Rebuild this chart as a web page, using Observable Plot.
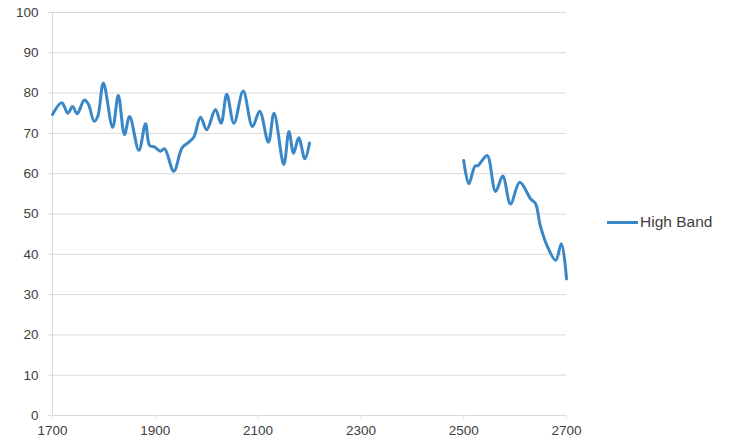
<!DOCTYPE html>
<html>
<head>
<meta charset="utf-8">
<script src="https://cdn.jsdelivr.net/npm/d3@7"></script>
<script src="https://cdn.jsdelivr.net/npm/@observablehq/plot@0.6"></script>
<style>
  body { margin: 0; background: #fff; }
  #wrap { position: relative; width: 730px; height: 444px; font-family: "Liberation Sans", Arial, sans-serif; }
  #legend { position: absolute; left: 607px; top: 213px; display: flex; align-items: center; font-size: 15.5px; color: #404040; }
  #legend .sw { width: 31px; height: 3px; background: #3a87c8; margin-right: 2px; }
</style>
</head>
<body>
<div id="wrap">
  <div id="chart"></div>
  <div id="legend"><span class="sw"></span><span>High Band</span></div>
</div>
<script>
const seriesName = "High Band";
const years = [
  1700, 1718, 1730, 1739, 1748, 1762, 1770, 1781, 1788, 1799,
  1817, 1828, 1840, 1850, 1868, 1881, 1889, 1899, 1910, 1918,
  1936, 1952, 1965, 1975, 1988, 2000, 2017, 2028, 2039, 2053,
  2071, 2089, 2103, 2120, 2131, 2150, 2160, 2169, 2179, 2191, 2200,
  2350,
  2500, 2510, 2522, 2528, 2536, 2546, 2562, 2576, 2591, 2609,
  2630, 2640, 2649, 2662, 2679, 2690, 2700
];
const values = [
  74.7, 77.6, 75.0, 76.7, 74.9, 78.3, 77.2, 73.0, 74.2, 82.5,
  71.5, 79.4, 69.7, 74.2, 65.8, 72.4, 67.0, 66.6, 65.6, 66.2,
  60.6, 66.4, 67.8, 69.1, 74.0, 70.9, 75.9, 72.5, 79.7, 72.5,
  80.5, 71.7, 75.5, 67.8, 75.0, 62.3, 70.5, 65.1, 68.9, 63.7, 67.6,
  null,
  63.3, 57.5, 61.9, 62.0, 63.3, 64.5, 55.6, 59.4, 52.5, 57.9,
  53.8, 52.5, 47.1, 42.2, 38.5, 42.6, 33.9
];
const xTicks = [1700, 1900, 2100, 2300, 2500, 2700];
const yTicks = [0, 10, 20, 30, 40, 50, 60, 70, 80, 90, 100];

const data = years.map((y, i) => ({year: y, value: values[i]}));

const chart = Plot.plot({
  width: 730,
  height: 444,
  marginLeft: 52,
  marginRight: 164,
  marginTop: 12,
  marginBottom: 29,
  style: {fontFamily: "'Liberation Sans', Arial, sans-serif", fontSize: "13.5px", color: "#404040", background: "#fff"},
  x: {domain: [1700, 2700], ticks: xTicks, tickFormat: d => String(d), label: null},
  y: {domain: [0, 100], ticks: yTicks, label: null},
  marks: [
    Plot.gridY(yTicks, {stroke: "#d9d9d9", strokeOpacity: 1, strokeWidth: 1}),
    Plot.ruleX([1700], {stroke: "#d9d9d9"}),
    Plot.axisY({ticks: yTicks, tickSize: 4, stroke: "#d9d9d9", tickPadding: 10, fill: "#404040", fontSize: 13.5}),
    Plot.axisX({ticks: xTicks, tickSize: 4, stroke: "#e3e3e3", tickPadding: 6, fill: "#404040", fontSize: 13.5, tickFormat: d => String(d)}),
    Plot.line(data, {x: "year", y: "value", stroke: "#3a87c8", strokeWidth: 3, curve: "catmull-rom"})
  ]
});
document.getElementById("chart").appendChild(chart);
</script>
</body>
</html>
